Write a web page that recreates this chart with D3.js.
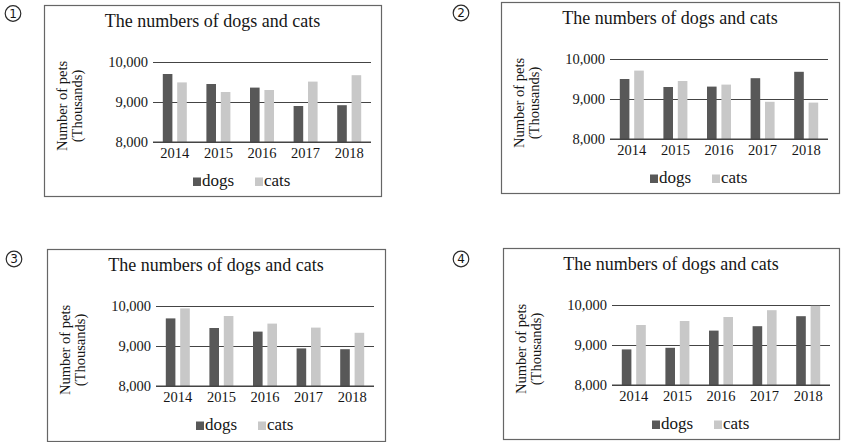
<!DOCTYPE html>
<html>
<head>
<meta charset="utf-8">
<script src="https://cdn.jsdelivr.net/npm/d3@7"></script>
<style>
  html, body { margin: 0; padding: 0; background: #fff; }
  svg { display: block; }
  text { font-family: "Liberation Serif", "Times New Roman", serif; fill: #161616; }
</style>
</head>
<body>
<svg id="chart" width="842" height="442"></svg>
<script>
// Years on the category axis
const years = ["2014", "2015", "2016", "2017", "2018"];

// Values (thousands of pets) for each of the four answer options
const dogs1 = [9700, 9450, 9360, 8900, 8920];
const cats1 = [9490, 9250, 9300, 9510, 9670];

const dogs2 = [9500, 9300, 9310, 9520, 9680];
const cats2 = [9710, 9450, 9360, 8930, 8910];

const dogs3 = [9690, 9450, 9360, 8940, 8920];
const cats3 = [9940, 9750, 9560, 9460, 9330];

const dogs4 = [8890, 8930, 9360, 9470, 9720];
const cats4 = [9500, 9600, 9700, 9870, 9980];

// Y axis ticks
const yTicks = [8000, 9000, 10000];

const seriesNames = ["dogs", "cats"];
const optionLabels = ["1", "2", "3", "4"];
const chartTitle = "The numbers of dogs and cats";
const yTitle = ["Number of pets", "(Thousands)"];

const colors = { dogs: "#585858", cats: "#c8c8c8" };

// Frame placement of each option panel on the page
const panels = [
  { label: optionLabels[0], dogs: dogs1, cats: cats1, x: 44,  y: 5,   w: 337, h: 191, badge: [13, 13.5] },
  { label: optionLabels[1], dogs: dogs2, cats: cats2, x: 501, y: 2,   w: 338, h: 191, badge: [461, 13] },
  { label: optionLabels[2], dogs: dogs3, cats: cats3, x: 47,  y: 249, w: 338, h: 192, badge: [14, 259] },
  { label: optionLabels[3], dogs: dogs4, cats: cats4, x: 503, y: 248, w: 336, h: 191, badge: [461, 259] }
];

const svg = d3.select("#chart");

panels.forEach(p => {
  // option badge: circled number
  const b = svg.append("g").attr("transform", `translate(${p.badge[0]},${p.badge[1]})`);
  b.append("circle").attr("r", 7.8).attr("fill", "none").attr("stroke", "#2a2a2a").attr("stroke-width", 1.2);
  b.append("text")
    .attr("text-anchor", "middle").attr("dy", "0.36em")
    .style("font-family", "'DejaVu Sans', sans-serif").style("font-size", "12px")
    .text(p.label);

  const g = svg.append("g").attr("transform", `translate(${p.x},${p.y})`);

  // frame
  g.append("rect")
    .attr("x", 0.5).attr("y", 0.5).attr("width", p.w).attr("height", p.h)
    .attr("fill", "none").attr("stroke", "#666").attr("stroke-width", 1.2);

  // title
  g.append("text")
    .attr("x", p.w / 2).attr("y", 22)
    .attr("text-anchor", "middle")
    .style("font-size", "18px")
    .text(chartTitle);

  // scales
  const x = d3.scaleBand().domain(years).range([109, 327]).padding(0);
  const y = d3.scaleLinear().domain([8000, 10000]).range([137, 57]);
  const barW = 10, barGap = 4;
  const sub = d3.scaleBand().domain(seriesNames)
    .range([0, barW * 2 + barGap]).paddingInner(barGap / (barW + barGap / 2));

  // gridlines + tick labels from a d3 axis
  const yAxis = d3.axisLeft(y).tickValues(yTicks)
    .tickFormat(d3.format(",")).tickSize(-(327 - 109)).tickPadding(5);
  const ya = g.append("g").attr("transform", "translate(109,0)").call(yAxis);
  ya.select(".domain").remove();
  ya.selectAll(".tick line").attr("stroke", "#444").attr("stroke-width", 1.2);
  ya.selectAll(".tick text")
    .attr("fill", "#161616")
    .style("font-family", "'Liberation Serif', serif").style("font-size", "14.5px");

  // bars
  const groups = g.append("g").selectAll("g")
    .data(years.map((yr, i) => ({ yr, dogs: p.dogs[i], cats: p.cats[i] })))
    .join("g")
    .attr("transform", d => `translate(${x(d.yr) + x.bandwidth() / 2 - (barW * 2 + barGap) / 2},0)`);

  groups.selectAll("rect")
    .data(d => seriesNames.map(s => ({ s, v: d[s] })))
    .join("rect")
    .attr("x", d => sub(d.s))
    .attr("width", sub.bandwidth())
    .attr("y", d => y(d.v))
    .attr("height", d => y(8000) - y(d.v))
    .attr("fill", d => colors[d.s]);

  // baseline drawn over the bar feet
  g.append("line")
    .attr("x1", 109).attr("x2", 327).attr("y1", y(8000)).attr("y2", y(8000))
    .attr("stroke", "#444").attr("stroke-width", 1.2);

  // x axis labels
  const xAxis = d3.axisBottom(x).tickSize(0).tickPadding(6);
  const xa = g.append("g").attr("transform", `translate(0,${y(8000)})`).call(xAxis);
  xa.select(".domain").remove();
  xa.selectAll(".tick text")
    .attr("fill", "#161616")
    .style("font-family", "'Liberation Serif', serif").style("font-size", "14.5px");

  // y axis title
  const yt = g.append("text")
    .attr("transform", `translate(23,101) rotate(-90)`)
    .attr("text-anchor", "middle")
    .style("font-size", "14.5px");
  yt.append("tspan").attr("x", 0).attr("y", 0).text(yTitle[0]);
  yt.append("tspan").attr("x", 0).attr("y", 15).text(yTitle[1]);

  // legend
  const legend = g.append("g").attr("transform", "translate(149,181)");
  const legendX = { dogs: 0, cats: 62 };
  seriesNames.forEach(s => {
    legend.append("rect")
      .attr("x", legendX[s]).attr("y", -8.5).attr("width", 8).attr("height", 8.5)
      .attr("fill", colors[s]);
    legend.append("text")
      .attr("x", legendX[s] + 9).attr("y", 0)
      .style("font-size", "17px")
      .text(s);
  });
});
</script>
</body>
</html>
